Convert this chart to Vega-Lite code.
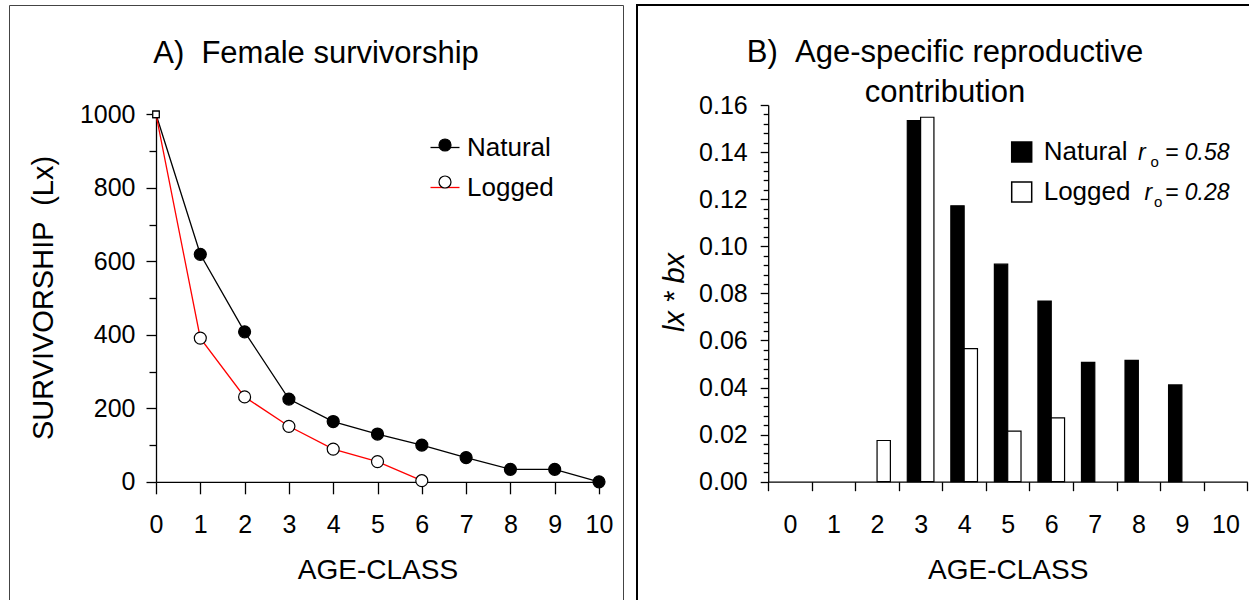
{
  "$schema": "https://vega.github.io/schema/vega-lite/v6.json",
  "padding": {"left": 8, "top": 4, "right": 0, "bottom": 0},
  "spacing": 12,
  "background": "white",
  "resolve": {"scale": {"fill": "independent", "stroke": "independent"}, "legend": {"fill": "independent", "stroke": "independent"}},
  "config": {
    "font": "Liberation Sans",
    "axis": {"grid": false, "domainColor": "black", "tickColor": "black", "labelColor": "black", "titleColor": "black", "domainWidth": 1.3, "tickWidth": 1.3, "labelFontSize": 25, "titleFontSize": 28, "titleFontWeight": "normal", "labelFont": "Liberation Sans", "titleFont": "Liberation Sans", "labelFlush": false, "labelOverlap": false},
    "legend": {"labelFontSize": 26, "labelColor": "black", "padding": 0, "labelFont": "Liberation Sans"},
    "title": {"fontWeight": "normal", "color": "black", "font": "Liberation Sans"}
  },
  "datasets": {
    "surv": [
      {"age": 0, "Site": "Natural", "lx": 1000},
      {"age": 1, "Site": "Natural", "lx": 619},
      {"age": 2, "Site": "Natural", "lx": 408},
      {"age": 3, "Site": "Natural", "lx": 225},
      {"age": 4, "Site": "Natural", "lx": 164},
      {"age": 5, "Site": "Natural", "lx": 130},
      {"age": 6, "Site": "Natural", "lx": 100},
      {"age": 7, "Site": "Natural", "lx": 66},
      {"age": 8, "Site": "Natural", "lx": 34},
      {"age": 9, "Site": "Natural", "lx": 34},
      {"age": 10, "Site": "Natural", "lx": 0},
      {"age": 0, "Site": "Logged", "lx": 1000},
      {"age": 1, "Site": "Logged", "lx": 391},
      {"age": 2, "Site": "Logged", "lx": 231},
      {"age": 3, "Site": "Logged", "lx": 151},
      {"age": 4, "Site": "Logged", "lx": 89},
      {"age": 5, "Site": "Logged", "lx": 55},
      {"age": 6, "Site": "Logged", "lx": 3}
    ],
    "repro": [
      {"age": 2, "Site": "Logged", "val": 0.0175},
      {"age": 3, "Site": "Natural", "val": 0.1534},
      {"age": 3, "Site": "Logged", "val": 0.1548},
      {"age": 4, "Site": "Natural", "val": 0.1172},
      {"age": 4, "Site": "Logged", "val": 0.0565},
      {"age": 5, "Site": "Natural", "val": 0.0924},
      {"age": 5, "Site": "Logged", "val": 0.0215},
      {"age": 6, "Site": "Natural", "val": 0.0767},
      {"age": 6, "Site": "Logged", "val": 0.0271},
      {"age": 7, "Site": "Natural", "val": 0.0507},
      {"age": 8, "Site": "Natural", "val": 0.0515},
      {"age": 9, "Site": "Natural", "val": 0.0411}
    ]
  },
  "hconcat": [
    {
      "width": 614,
      "height": 600,
      "view": {"stroke": "#444", "strokeWidth": 1},
      "title": {"text": "A) \u00a0Female survivorship", "fontSize": 31, "offset": -89, "baseline": "alphabetic", "anchor": "middle", "frame": "group"},
      "data": {"name": "surv"},
      "encoding": {
        "x": {"field": "age", "type": "quantitative",
          "scale": {"domain": [0, 10], "range": [147, 590], "nice": false, "zero": false},
          "axis": {"orient": "bottom", "offset": -123.2, "values": [0, 1, 2, 3, 4, 5, 6, 7, 8, 9, 10], "format": "d", "tickSize": 12, "labelPadding": 19, "title": "AGE-CLASS", "titleY": 75, "titleBaseline": "top"}},
        "y": {"field": "lx", "type": "quantitative",
          "scale": {"domain": [0, 1000], "range": [476.8, 109.3], "nice": false},
          "axis": {"orient": "left", "offset": -147, "values": [0, 100, 200, 300, 400, 500, 600, 700, 800, 900, 1000], "format": "d",
            "labelExpr": "datum.value % 200 === 0 ? datum.label : ''",
            "tickSize": {"condition": {"test": "datum.value % 200 === 0", "value": 10}, "value": 7},
            "labelPadding": 11, "title": "SURVIVORSHIP \u00a0(Lx)", "titleFontSize": 29, "titleX": -112.4, "titleY": 292.5, "titleAngle": -90, "titleBaseline": "middle", "titleAlign": "center"}}
      },
      "layer": [
        {
          "mark": {"type": "line", "strokeWidth": 1.3},
          "encoding": {
            "stroke": {"field": "Site", "type": "nominal",
              "scale": {"domain": ["Natural", "Logged"], "range": ["black", "red"]},
              "legend": {"orient": "none", "legendX": 420.5, "legendY": 127, "title": null, "symbolType": "M-1,0H1", "symbolSize": 841, "symbolStrokeWidth": 1.3, "labelOffset": 6.5, "rowPadding": 11}}
          }
        },
        {
          "mark": {"type": "point", "filled": true, "stroke": "black", "strokeWidth": 1.2, "opacity": 1},
          "encoding": {
            "fill": {"condition": {"test": "datum.age === 0", "value": "white"}, "field": "Site", "type": "nominal",
              "scale": {"domain": ["Natural", "Logged", "none"], "range": ["black", "white", "white"]},
              "legend": {"values": ["Natural", "Logged"], "orient": "none", "legendX": 423, "legendY": 127, "title": null, "symbolType": "circle", "symbolSize": 144, "symbolStrokeColor": "black", "symbolStrokeWidth": 1.2, "symbolOpacity": 1, "labelExpr": "''", "labelOffset": 6.5, "rowPadding": 11}},
            "shape": {"condition": {"test": "datum.age === 0", "value": "square"}, "value": "circle"},
            "size": {"condition": {"test": "datum.age === 0", "value": 42}, "value": 144}
          }
        }
      ]
    },
    {
      "width": 616,
      "height": 600,
      "view": {"stroke": "black", "strokeWidth": 2},
      "title": {"text": ["B) \u00a0Age-specific reproductive", "contribution"], "fontSize": 31, "offset": -128, "baseline": "alphabetic", "lineHeight": 40, "anchor": "middle", "frame": "group"},
      "resolve": {"axis": {"x": "independent", "y": "independent"}},
      "layer": [
        {
          "data": {"name": "repro"},
          "mark": {"type": "bar", "stroke": "black", "strokeWidth": 1.2},
          "encoding": {
            "x": {"field": "age", "type": "ordinal",
              "scale": {"domain": [0, 1, 2, 3, 4, 5, 6, 7, 8, 9, 10], "range": [131.2, 610.2], "paddingInner": 0, "paddingOuter": 0},
              "axis": {"orient": "bottom", "offset": -123.3, "labelAngle": 0, "tickBand": "extent", "tickSize": 9, "labelPadding": 22, "title": "AGE-CLASS", "titleY": 75, "titleBaseline": "top"}},
            "xOffset": {"field": "Site", "type": "nominal", "scale": {"domain": ["Natural", "Logged"], "paddingInner": 0, "paddingOuter": 0.635}},
            "y": {"field": "val", "type": "quantitative",
              "scale": {"domain": [0, 0.16], "range": [476.7, 100], "nice": false},
              "axis": {"orient": "left", "offset": -131.2,
                "values": [0, 0.004, 0.008, 0.012, 0.016, 0.02, 0.024, 0.028, 0.032, 0.036, 0.04, 0.044, 0.048, 0.052, 0.056, 0.06, 0.064, 0.068, 0.072, 0.076, 0.08, 0.084, 0.088, 0.092, 0.096, 0.1, 0.104, 0.108, 0.112, 0.116, 0.12, 0.124, 0.128, 0.132, 0.136, 0.14, 0.144, 0.148, 0.152, 0.156, 0.16],
                "format": ".2f",
                "labelExpr": "abs(datum.value / 0.02 - round(datum.value / 0.02)) < 0.000001 ? datum.label : ''",
                "tickSize": {"condition": {"test": "abs(datum.value / 0.02 - round(datum.value / 0.02)) < 0.000001", "value": 8}, "value": 5},
                "labelPadding": 13, "title": "lx * bx", "titleFontStyle": "italic", "titleFontSize": 29, "titleX": -94.1, "titleY": 286.9, "titleAngle": -90, "titleBaseline": "middle", "titleAlign": "center"}},
            "fill": {"field": "Site", "type": "nominal",
              "scale": {"domain": ["Natural", "Logged"], "range": ["black", "white"]},
              "legend": {"orient": "none", "legendX": 371.7, "legendY": 134, "title": null, "symbolType": "square", "symbolSize": 400, "symbolStrokeColor": "black", "symbolStrokeWidth": 1.5, "symbolOpacity": 1, "labelOffset": 9, "rowPadding": 14}}
          }
        },
        {
          "data": {"values": [{}]},
          "mark": {"type": "text", "text": "r", "fontSize": 23, "fontStyle": "italic", "align": "left", "baseline": "alphabetic", "dx": -44, "color": "black"},
          "encoding": {"x": {"datum": 9, "type": "ordinal", "axis": null}, "y": {"datum": 0.1366, "type": "quantitative", "axis": null}}
        },
        {
          "data": {"values": [{}]},
          "mark": {"type": "text", "text": "o", "fontSize": 15, "align": "left", "baseline": "alphabetic", "dx": -31.5, "color": "black"},
          "encoding": {"x": {"datum": 9, "type": "ordinal", "axis": null}, "y": {"datum": 0.1338, "type": "quantitative", "axis": null}}
        },
        {
          "data": {"values": [{}]},
          "mark": {"type": "text", "text": "= 0.58", "fontSize": 23, "fontStyle": "italic", "align": "right", "baseline": "alphabetic", "dx": 47.6, "color": "black"},
          "encoding": {"x": {"datum": 9, "type": "ordinal", "axis": null}, "y": {"datum": 0.1366, "type": "quantitative", "axis": null}}
        },
        {
          "data": {"values": [{}]},
          "mark": {"type": "text", "text": "r", "fontSize": 23, "fontStyle": "italic", "align": "left", "baseline": "alphabetic", "dx": -37.4, "color": "black"},
          "encoding": {"x": {"datum": 9, "type": "ordinal", "axis": null}, "y": {"datum": 0.11965, "type": "quantitative", "axis": null}}
        },
        {
          "data": {"values": [{}]},
          "mark": {"type": "text", "text": "o", "fontSize": 15, "align": "left", "baseline": "alphabetic", "dx": -28, "color": "black"},
          "encoding": {"x": {"datum": 9, "type": "ordinal", "axis": null}, "y": {"datum": 0.1166, "type": "quantitative", "axis": null}}
        },
        {
          "data": {"values": [{}]},
          "mark": {"type": "text", "text": "= 0.28", "fontSize": 23, "fontStyle": "italic", "align": "right", "baseline": "alphabetic", "dx": 47.6, "color": "black"},
          "encoding": {"x": {"datum": 9, "type": "ordinal", "axis": null}, "y": {"datum": 0.11965, "type": "quantitative", "axis": null}}
        }
      ]
    }
  ]
}
